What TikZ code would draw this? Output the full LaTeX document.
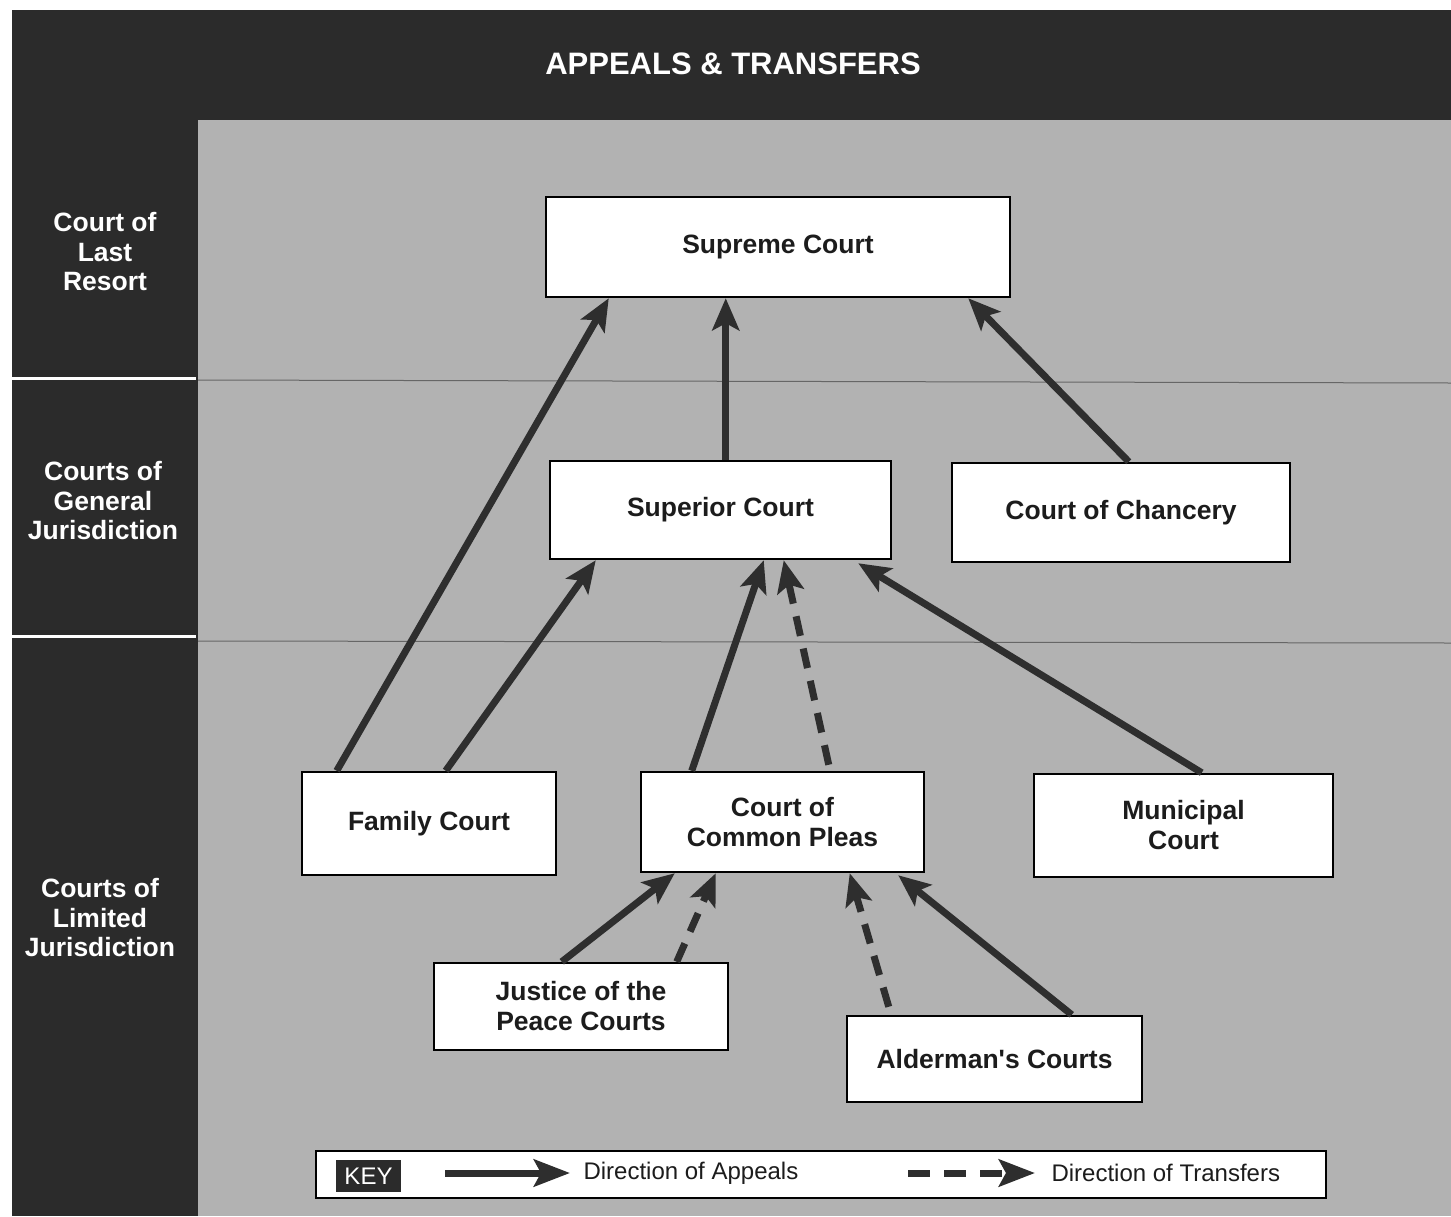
\documentclass[tikz,border=0pt]{standalone}
\usepackage{fontspec}
\setmainfont{Liberation Sans}
\usetikzlibrary{arrows.meta,calc}
\definecolor{panel}{HTML}{2B2B2B}
\definecolor{stip}{HTML}{B2B2B2}
\definecolor{ink}{HTML}{1C1C1C}
\definecolor{arr}{HTML}{2E2E2E}
\tikzset{
  court/.style={draw=black, line width=2.5pt, fill=white, align=center, text=ink,
    font=\bfseries\fontsize{26.5}{30}\selectfont, inner sep=0pt},
  tier/.style={text=white, align=center, font=\bfseries\fontsize{26.5}{29.5}\selectfont},
  appeal/.style={draw=arr, line width=7pt, -{Stealth[length=32pt,width=27pt,inset=7pt]}},
  transfer/.style={appeal, dash pattern=on 20pt off 13pt},
  keytext/.style={anchor=west, text=ink, font=\fontsize{24}{28}\selectfont}
}
\begin{document}
\begin{tikzpicture}[x=1pt,y=-1pt]
\useasboundingbox (0,0) rectangle (1451,1216);
\fill[white] (0,0) rectangle (1451,1216);
% dark panel and stippled field
\fill[panel] (12,10) rectangle (1451,1216);
\fill[stip] (198,120) rectangle (1451,1216);
% dividers
\draw[white, line width=3pt] (12,378) -- (196,378);
\draw[white, line width=3pt] (12,636) -- (196,636);
\draw[black!60, line width=1pt] (198,380) -- (1451,383);
\draw[black!60, line width=1pt] (198,641) -- (1451,643);
% title and tier labels
\node[text=white, font=\bfseries\fontsize{31}{36}\selectfont] (title) at (733,64) {APPEALS \& TRANSFERS};
\node[tier] (t1) at (105,252) {Court of\\Last\\Resort};
\node[tier] (t2) at (103,501) {Courts of\\General\\Jurisdiction};
\node[tier] (t3) at (100,918) {Courts of\\Limited\\Jurisdiction};
% courts
\node[court, minimum width=464pt, minimum height=100pt] (sup) at (778,247) {Supreme Court};
\node[court, minimum width=341pt, minimum height=98pt] (supr) at (720.5,510) {Superior Court};
\node[court, minimum width=338pt, minimum height=99pt] (chan) at (1121,512.5) {Court of Chancery};
\node[court, minimum width=254pt, minimum height=103pt] (fam) at (429,823.5) {Family Court};
\node[court, minimum width=283pt, minimum height=100pt] (ccp) at (782.5,822) {\raisebox{3pt}{\parbox{280pt}{\centering Court of\\Common Pleas}}};
\node[court, minimum width=299pt, minimum height=103pt] (mun) at (1183.5,825.5) {\raisebox{3pt}{\parbox{290pt}{\centering Municipal\\Court}}};
\node[court, minimum width=294pt, minimum height=87pt] (jp) at (581,1006.5) {\raisebox{2pt}{\parbox{290pt}{\centering Justice of the\\Peace Courts}}};
\node[court, minimum width=295pt, minimum height=86pt] (ald) at (994.5,1059) {Alderman\textquotesingle s Courts};
% connectors
\draw[appeal] ($(fam.north west)+(36,0)$) -- ($(sup.south west)+(64,0)$);
\draw[appeal] ($(fam.north west)+(145,0)$) -- ($(supr.south west)+(47,0)$);
\draw[appeal] ($(supr.north west)+(177,0)$) -- ($(sup.south west)+(181,0)$);
\draw[appeal] ($(chan.north west)+(178,0)$) -- ($(sup.south east)+(-43,0)$);
\draw[appeal] ($(ccp.north west)+(52,0)$) -- ($(supr.south west)+(215,0)$);
\draw[transfer] ($(ccp.north west)+(189,-6)$) -- ($(supr.south west)+(235,0)$);
\draw[appeal] ($(mun.north west)+(169,0)$) -- ($(supr.south east)+(-34,3)$);
\draw[appeal] ($(jp.north west)+(129,0)$) -- ($(ccp.south west)+(35,0)$);
\draw[transfer] ($(jp.north west)+(244,0)$) -- ($(ccp.south west)+(76,0)$);
\draw[transfer] ($(ald.north west)+(43,-8)$) -- ($(ccp.south west)+(210,0)$);
\draw[appeal] ($(ald.north west)+(226,0)$) -- ($(ccp.south east)+(-27,2)$);
% key
\node[draw=black, line width=2.5pt, fill=white, minimum width=1010pt, minimum height=47pt, inner sep=0pt] (key) at (821,1174.5) {};
\node[fill=panel, text=white, minimum width=65pt, minimum height=32pt, inner sep=0pt, font=\fontsize{24}{28}\selectfont] (keylbl) at (368.5,1176) {KEY};
\coordinate (ka1) at (445,1173);
\coordinate (ka2) at (570,1173);
\coordinate (kt1) at (908,1173);
\coordinate (kt2) at (1035,1173);
\draw[appeal, -{Stealth[length=36pt,width=27pt,inset=7pt]}] (ka1) -- (ka2);
\draw[transfer, dash pattern=on 22pt off 14pt, -{Stealth[length=36pt,width=27pt,inset=7pt]}] (kt1) -- (kt2);
\node[keytext] (kapp) at (580,1173) {Direction of Appeals};
\node[keytext] (ktr) at (1048,1173) {Direction of Transfers};
\end{tikzpicture}
\end{document}
